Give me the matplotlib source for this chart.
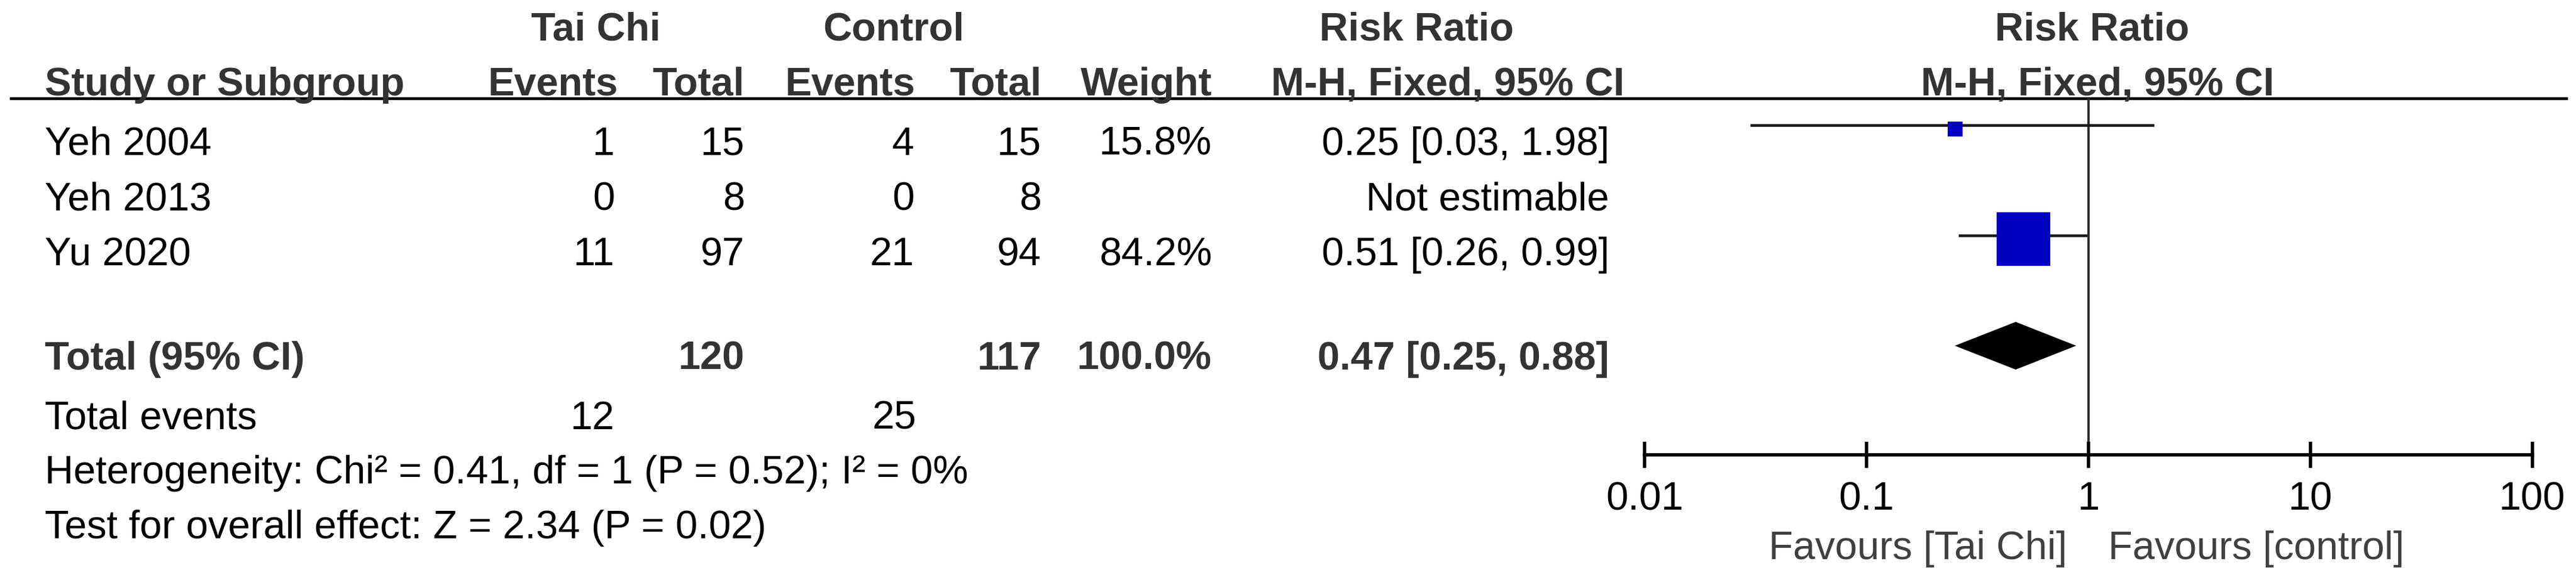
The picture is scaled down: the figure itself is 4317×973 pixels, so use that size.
import matplotlib
matplotlib.use("Agg")
import matplotlib.pyplot as plt
from matplotlib.patches import Polygon
from matplotlib.ticker import NullLocator
from matplotlib.transforms import offset_copy

# --- data ---
studies = ["Yeh 2004", "Yeh 2013", "Yu 2020"]
taichi_events = [1, 0, 11]
taichi_total = [15, 8, 97]
control_events = [4, 0, 21]
control_total = [15, 8, 94]
weights = [15.8, None, 84.2]
rr = [0.25, None, 0.51]
ci_low = [0.03, None, 0.26]
ci_high = [1.98, None, 0.99]

total_taichi_n = 120
total_control_n = 117
total_taichi_events = 12
total_control_events = 25
total_weight = 100.0
total_rr = 0.47
total_low = 0.25
total_high = 0.88

chi2, df, p_het, i2 = 0.41, 1, 0.52, 0
z_val, p_z = 2.34, 0.02

tick_vals = [0.01, 0.1, 1, 10, 100]
tick_labels = ["0.01", "0.1", "1", "10", "100"]
# ---------------------------------------

W, H = 4317, 973
FS = 48
HEAD = "#333333"
SQ_SIDE_PX = [25, None, 90]  # square sizes as drawn

plt.rcParams["font.family"] = ["Liberation Sans", "DejaVu Sans"]

fig = plt.figure(figsize=(W / 100, H / 100), dpi=100)
fig.patch.set_facecolor("white")

# table layer, pixel coordinates (y down)
tab = fig.add_axes([0, 0, 1, 1])
tab.set_xlim(0, W)
tab.set_ylim(H, 0)
tab.axis("off")

def row_base(i):
    return 260 + 92.5 * i

X_LEFT = 75
X_TE, X_TT, X_CE, X_CT, X_W, X_RR = 1030, 1248, 1532, 1745, 2031, 2697

# header
tab.text(999, 68, "Tai Chi", ha="center", va="baseline", fontsize=FS, weight="bold", color=HEAD)
tab.text(1498, 68, "Control", ha="center", va="baseline", fontsize=FS, weight="bold", color=HEAD)
tab.text(2374, 68, "Risk Ratio", ha="center", va="baseline", fontsize=FS, weight="bold", color=HEAD)
tab.text(3506, 68, "Risk Ratio", ha="center", va="baseline", fontsize=FS, weight="bold", color=HEAD)

tab.text(X_LEFT, 160, "Study or Subgroup", ha="left", va="baseline", fontsize=FS, weight="bold", color=HEAD)
for x, s in [(1036, "Events"), (X_TT, "Total"), (1534, "Events"), (X_CT, "Total"), (X_W, "Weight")]:
    tab.text(x, 160, s, ha="right", va="baseline", fontsize=FS, weight="bold", color=HEAD)
tab.text(2426, 160, "M-H, Fixed, 95% CI", ha="center", va="baseline", fontsize=FS, weight="bold", color=HEAD)
tab.text(3515, 160, "M-H, Fixed, 95% CI", ha="center", va="baseline", fontsize=FS, weight="bold", color=HEAD)

tab.plot([16, 4303], [165, 165], color="black", lw=3.4, solid_capstyle="butt")

# study rows
for i, name in enumerate(studies):
    yb = row_base(i)
    tab.text(X_LEFT, yb, name, ha="left", va="baseline", fontsize=FS, color="black")
    tab.text(X_TE, yb, str(taichi_events[i]), ha="right", va="baseline", fontsize=FS)
    tab.text(X_TT, yb, str(taichi_total[i]), ha="right", va="baseline", fontsize=FS)
    tab.text(X_CE, yb, str(control_events[i]), ha="right", va="baseline", fontsize=FS)
    tab.text(X_CT, yb, str(control_total[i]), ha="right", va="baseline", fontsize=FS)
    if weights[i] is not None:
        tab.text(X_W, yb, f"{weights[i]:.1f}%", ha="right", va="baseline", fontsize=FS)
    if rr[i] is not None:
        s = f"{rr[i]:.2f} [{ci_low[i]:.2f}, {ci_high[i]:.2f}]"
    else:
        s = "Not estimable"
    tab.text(X_RR, yb, s, ha="right", va="baseline", fontsize=FS)

# total rows
tab.text(X_LEFT, 620, "Total (95% CI)", ha="left", va="baseline", fontsize=FS, weight="bold", color=HEAD)
tab.text(X_TT, 620, str(total_taichi_n), ha="right", va="baseline", fontsize=FS, weight="bold", color=HEAD)
tab.text(X_CT, 620, str(total_control_n), ha="right", va="baseline", fontsize=FS, weight="bold", color=HEAD)
tab.text(X_W, 620, f"{total_weight:.1f}%", ha="right", va="baseline", fontsize=FS, weight="bold", color=HEAD)
tab.text(X_RR, 620, f"{total_rr:.2f} [{total_low:.2f}, {total_high:.2f}]",
         ha="right", va="baseline", fontsize=FS, weight="bold", color=HEAD)

tab.text(X_LEFT, 720, "Total events", ha="left", va="baseline", fontsize=FS)
tab.text(X_TE, 720, str(total_taichi_events), ha="right", va="baseline", fontsize=FS)
tab.text(1536, 720, str(total_control_events), ha="right", va="baseline", fontsize=FS)

tab.text(X_LEFT, 811, f"Heterogeneity: Chi² = {chi2:.2f}, df = {df} (P = {p_het:.2f}); I² = {i2}%",
         ha="left", va="baseline", fontsize=FS)
tab.text(X_LEFT, 903, f"Test for overall effect: Z = {z_val:.2f} (P = {p_z:.2f})",
         ha="left", va="baseline", fontsize=FS)

# forest panel: x log scale, rows 0..4 (row r sits at pixel 210 + 92.5 r)
px_left, px_right, px_top, px_bot = 2756, 4244, 165, 763
fa = fig.add_axes([px_left / W, (H - px_bot) / H, (px_right - px_left) / W, (px_bot - px_top) / H])
fa.patch.set_alpha(0)
fa.set_xscale("log")
fa.set_xlim(tick_vals[0], tick_vals[-1])
fa.set_ylim((px_bot - 210) / 92.5, (px_top - 210) / 92.5)

fa.axvline(1, color="#2b2b2b", lw=2.8, zorder=1)

sq_trans = offset_copy(fa.transData, fig=fig, x=0, y=-6, units="dots")
for i in range(len(studies)):
    if rr[i] is None:
        continue
    fa.hlines(i, ci_low[i], ci_high[i], color="#1a1a1a", lw=3.3, zorder=2)
    side_pt = SQ_SIDE_PX[i] * 0.72
    fa.scatter([rr[i]], [i], marker="s", s=side_pt ** 2, color="#0000C0",
               linewidths=0, zorder=3, transform=sq_trans)

total_row = 4
half_h = 40 / 92.5
diamond = Polygon([(total_low, total_row), (total_rr, total_row - half_h),
                   (total_high, total_row), (total_rr, total_row + half_h)],
                  closed=True, facecolor="black", edgecolor="black", lw=0, zorder=3)
fa.add_patch(diamond)

for side in ["left", "right", "top"]:
    fa.spines[side].set_visible(False)
fa.spines["bottom"].set_linewidth(4)
fa.spines["bottom"].set_color("black")
fa.set_yticks([])
fa.set_xticks(tick_vals)
fa.set_xticklabels(tick_labels)
fa.xaxis.set_minor_locator(NullLocator())
fa.tick_params(axis="x", which="major", direction="inout", length=32, width=4,
               pad=16, labelsize=FS, colors="black")

fa.annotate("Favours [Tai Chi]", xy=(1, 0), xycoords=("data", "axes fraction"),
            xytext=(-26, -126), textcoords="offset points", ha="right", va="baseline",
            fontsize=FS, color="#404040", annotation_clip=False)
fa.annotate("Favours [control]", xy=(1, 0), xycoords=("data", "axes fraction"),
            xytext=(24, -126), textcoords="offset points", ha="left", va="baseline",
            fontsize=FS, color="#404040", annotation_clip=False)

fig.savefig("out.png", dpi=100, facecolor="white")
